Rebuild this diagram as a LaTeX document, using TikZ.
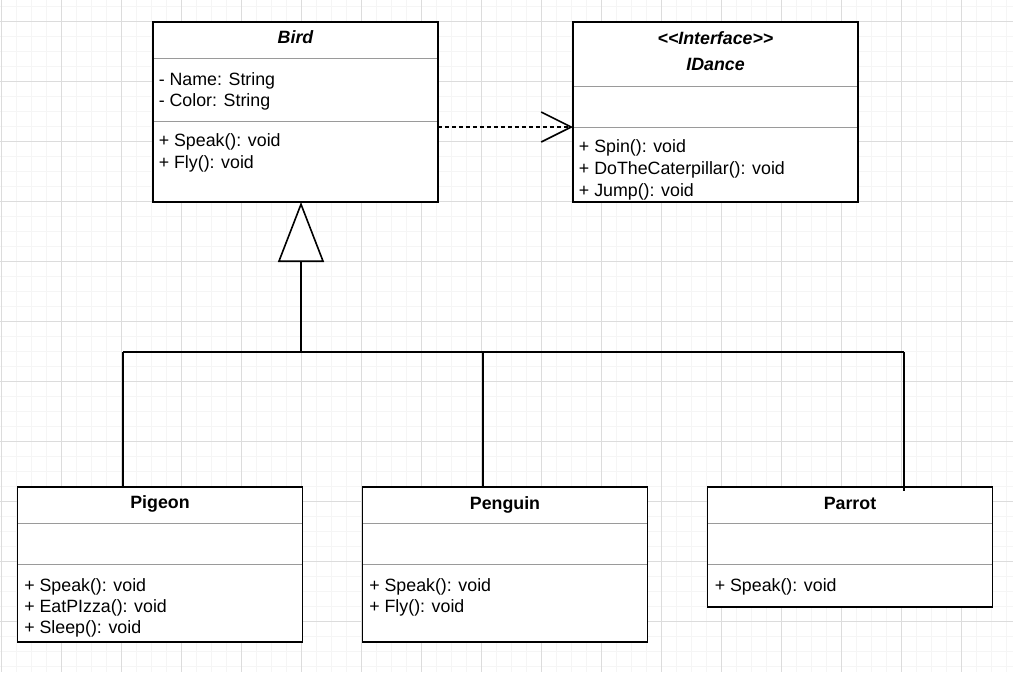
\documentclass[tikz,border=0pt]{standalone}
\usepackage{fontspec}
\setmainfont{Liberation Sans}
\usetikzlibrary{arrows.meta,calc}
\definecolor{gridminor}{HTML}{F5F5F5}
\definecolor{gridmajor}{HTML}{DCDCDC}
\definecolor{sepgray}{HTML}{9A9A9A}
\newcommand\umlfs{\fontsize{13.35}{16}\selectfont}
\tikzset{
  classbox/.style={draw=black, line width=1.2pt, fill=white, inner sep=0pt, outer sep=0pt, anchor=north west, minimum width=213.75pt},
  sepline/.style={draw=sepgray, line width=0.75pt},
  member/.style={anchor=base west, inner sep=0pt, font=\umlfs},
  classtitle/.style={anchor=base, inner sep=0pt, font=\umlfs\bfseries},
  conn/.style={line width=1.2pt, black},
  minorline/.style={draw=gridminor, line width=0.75pt},
  majorline/.style={draw=gridmajor, line width=0.75pt}
}
\begin{document}
\begin{tikzpicture}[x=0.75pt,y=-0.75pt]
\useasboundingbox (0,0) rectangle (1013,672);
\fill[white] (0,0) rectangle (1013,672);
% grid
\foreach \i in {0,...,67} \draw[minorline] ({1.7+15*\i},0) -- ({1.7+15*\i},672);
\foreach \j in {0,...,44} \draw[minorline] (0,{6.7+15*\j}) -- (1013,{6.7+15*\j});
\foreach \i in {0,...,16} \draw[majorline] ({1.7+60*\i},0) -- ({1.7+60*\i},672);
\foreach \j in {0,...,10} \draw[majorline] (0,{21.7+60*\j}) -- (1013,{21.7+60*\j});

% Bird
\node[classbox, minimum height=135pt] (bird) at (153,22) {};
\draw[sepline] ($(bird.north west)+(0.8,36.3)$) -- ($(bird.north east)+(-0.8,36.3)$);
\draw[sepline] ($(bird.north west)+(0.8,99.3)$) -- ($(bird.north east)+(-0.8,99.3)$);
\node[classtitle, font=\umlfs\bfseries\itshape] (birdt) at (295.5,43.7) {Bird};
\node[member] (bird1) at (158.5,85.3) {- Name: String};
\node[member] (bird2) at (158.5,106.3) {- Color: String};
\node[member] (bird3) at (158.5,146.7) {+ Speak(): void};
\node[member] (bird4) at (158.5,168.5) {+ Fly(): void};

% IDance
\node[classbox, minimum height=135pt] (idance) at (573,22) {};
\draw[sepline] ($(idance.north west)+(0.8,64.3)$) -- ($(idance.north east)+(-0.8,64.3)$);
\draw[sepline] ($(idance.north west)+(0.8,105.3)$) -- ($(idance.north east)+(-0.8,105.3)$);
\node[classtitle, font=\umlfs\bfseries\itshape] (idancet1) at (715.5,44.3) {<\kern0pt<Interface>\kern0pt>};
\node[classtitle, font=\umlfs\bfseries\itshape] (idancet2) at (715.5,70.3) {IDance};
\node[member] (id1) at (578.7,152.7) {+ Spin(): void};
\node[member] (id2) at (578.7,174.7) {+ DoTheCaterpillar(): void};
\node[member] (id3) at (578.7,196) {+ Jump(): void};

% Pigeon
\node[classbox, minimum height=116.25pt] (pigeon) at (17.5,487) {};
\draw[sepline] ($(pigeon.north west)+(0.8,36)$) -- ($(pigeon.north east)+(-0.8,36)$);
\draw[sepline] ($(pigeon.north west)+(0.8,77.3)$) -- ($(pigeon.north east)+(-0.8,77.3)$);
\node[classtitle] (pigeont) at (160,508.7) {Pigeon};
\node[member] (pg1) at (24,591) {+ Speak(): void};
\node[member] (pg2) at (24,612) {+ EatPIzza(): void};
\node[member] (pg3) at (24,633.3) {+ Sleep(): void};

% Penguin
\node[classbox, minimum height=116.25pt] (penguin) at (362.5,487) {};
\draw[sepline] ($(penguin.north west)+(0.8,36)$) -- ($(penguin.north east)+(-0.8,36)$);
\draw[sepline] ($(penguin.north west)+(0.8,77.3)$) -- ($(penguin.north east)+(-0.8,77.3)$);
\node[classtitle] (penguint) at (505,509) {Penguin};
\node[member] (pn1) at (369,591) {+ Speak(): void};
\node[member] (pn2) at (369,612) {+ Fly(): void};

% Parrot
\node[classbox, minimum height=90pt] (parrot) at (707.5,487) {};
\draw[sepline] ($(parrot.north west)+(0.8,36)$) -- ($(parrot.north east)+(-0.8,36)$);
\draw[sepline] ($(parrot.north west)+(0.8,77.3)$) -- ($(parrot.north east)+(-0.8,77.3)$);
\node[classtitle] (parrott) at (850,509) {Parrot};
\node[member] (pr1) at (714.5,591) {+ Speak(): void};

% realization (dashed)
\draw[conn, dash pattern=on 3pt off 2.25pt, -{Straight Barb[length=22.5pt, width=22.5pt]}]
  ($(bird.north east)+(0,105)$) -- ($(idance.north west)+(0,105)$);

% generalization
\coordinate (jtop) at (301,352);
\coordinate (jpig) at (123,352);
\coordinate (jpen) at (483,352);
\coordinate (jpar) at (904,352);
\draw[conn] (jpig) -- (jpar);
\draw[conn] (jpig) -- (jpig |- pigeon.north);
\draw[conn] (jpen) -- (jpen |- penguin.north);
\draw[conn] (jpar) -- ($(jpar |- parrot.north)+(0,4)$);
\draw[conn, -{Triangle[fill=white, length=45pt, width=34.5pt]}] (jtop) -- (jtop |- bird.south);
\end{tikzpicture}
\end{document}
